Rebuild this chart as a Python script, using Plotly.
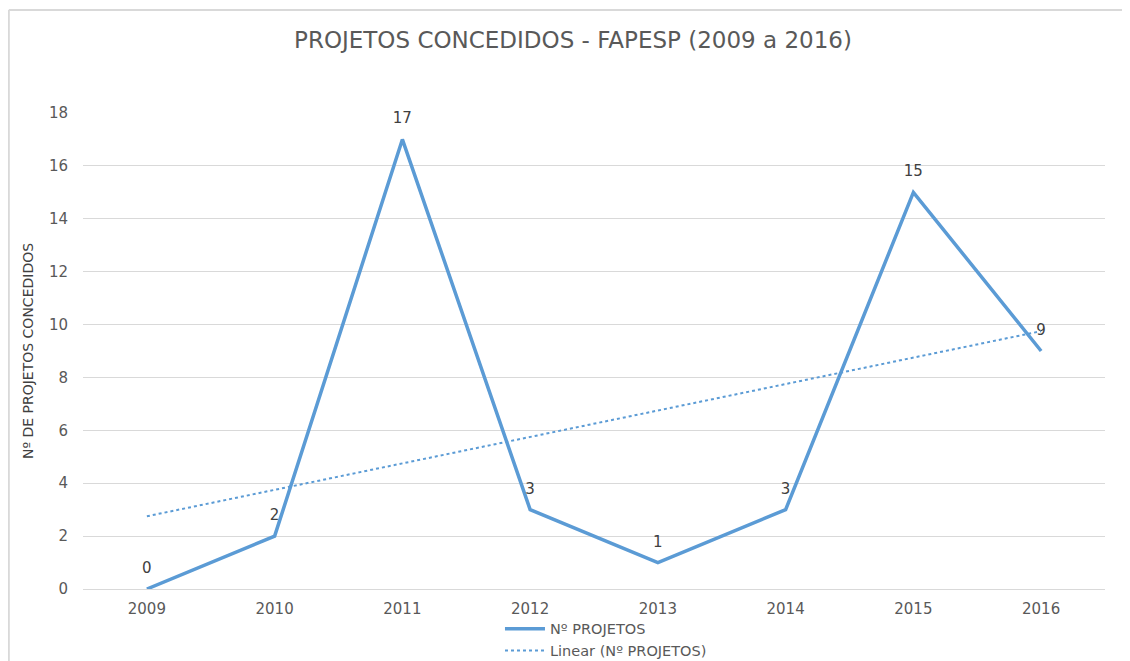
import numpy as np
import plotly.graph_objects as go

years = ["2009", "2010", "2011", "2012", "2013", "2014", "2015", "2016"]
projetos = [0, 2, 17, 3, 1, 3, 15, 9]

series_name = "Nº PROJETOS"
trend_name = "Linear (Nº PROJETOS)"
title_text = "PROJETOS CONCEDIDOS - FAPESP (2009 a 2016)"
y_title = "Nº DE PROJETOS CONCEDIDOS"

# linear trendline (least squares fit, as Excel does)
xi = np.arange(len(years))
slope, intercept = np.polyfit(xi, projetos, 1)
trend = list(slope * xi + intercept)

BLUE = "#5B9BD5"
GREY_TXT = "#595959"
GRID = "#D9D9D9"
FONT = "'DejaVu Sans', sans-serif"

fig = go.Figure()
fig.add_trace(go.Scatter(
    x=years, y=projetos, mode="lines+markers+text", name=series_name,
    line=dict(color=BLUE, width=3.5),
    marker=dict(size=18, color="rgba(0,0,0,0)", line=dict(width=0)),
    text=[str(v) for v in projetos], textposition="top center",
    textfont=dict(size=15, color="#404040", family=FONT),
    cliponaxis=False,
))
fig.add_trace(go.Scatter(
    x=years, y=trend, mode="lines", name=trend_name,
    line=dict(color=BLUE, width=2, dash="dot"),
))

fig.update_layout(
    width=1130, height=661,
    margin=dict(l=75, r=33, t=105, b=80, autoexpand=False),
    paper_bgcolor="white", plot_bgcolor="white",
    font=dict(family=FONT, color=GREY_TXT, size=14),
    title=dict(text=title_text, x=0.5, xanchor="center", y=0.952, yanchor="middle",
               font=dict(size=23, color=GREY_TXT, family=FONT)),
    showlegend=True,
    legend=dict(orientation="v", x=0.408, xanchor="left", y=-0.05, yanchor="top",
                font=dict(size=14.5, color=GREY_TXT), tracegroupgap=0,
                itemwidth=40, bgcolor="rgba(0,0,0,0)"),
    xaxis=dict(type="category", range=[-0.5, 7.5], showgrid=False,
               showline=True, linecolor=GRID, linewidth=1, ticks="",
               tickfont=dict(size=15, color=GREY_TXT), ticklabelstandoff=6),
    yaxis=dict(range=[0, 18], dtick=2, showgrid=True, gridcolor=GRID, gridwidth=1,
               zeroline=False, showline=False, ticks="",
               tickfont=dict(size=15, color=GREY_TXT), ticklabelstandoff=14,
               title=dict(text=y_title, font=dict(size=14, color="#404040"), standoff=12)),
    shapes=[
        dict(type="line", xref="paper", yref="paper", x0=-0.0726, x1=1.05, y0=1.2164, y1=1.2164,
             line=dict(color=GRID, width=2)),
        dict(type="line", xref="paper", yref="paper", x0=-0.0726, x1=-0.0726, y0=1.2164, y1=-0.2,
             line=dict(color=GRID, width=2)),
    ],
)

fig.write_html("out.html")
